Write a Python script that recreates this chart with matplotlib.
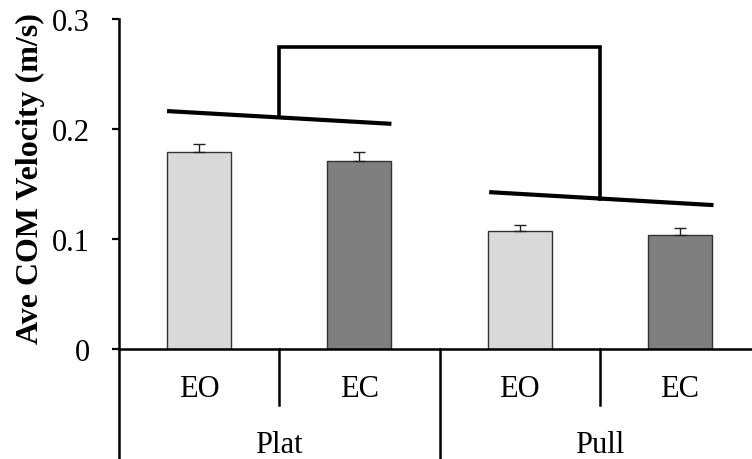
import matplotlib
matplotlib.use("Agg")
import matplotlib.pyplot as plt

# data
conditions = ["EO", "EC", "EO", "EC"]
surfaces = ["Plat", "Pull"]
velocity = [0.179, 0.171, 0.107, 0.104]
velocity_err = [0.007, 0.008, 0.006, 0.006]
bar_colors = ["#d9d9d9", "#7f7f7f", "#d9d9d9", "#7f7f7f"]

# trend lines over each surface and the bracket joining them
plat_line_x = [-0.2, 1.2]
plat_line_y = [0.2163, 0.2047]
pull_line_x = [1.81, 3.21]
pull_line_y = [0.1426, 0.1308]
bracket_x = [0.5, 0.5, 2.5, 2.5]
bracket_y = [0.2105, 0.2748, 0.2748, 0.1368]

plt.rcParams["font.family"] = ["Liberation Serif", "DejaVu Serif"]

fig = plt.figure(figsize=(7.52, 4.60), dpi=100)
ax = fig.add_axes([119 / 752, 1 - 350 / 460, 641 / 752, 330 / 460])

x = list(range(len(conditions)))
ax.bar(x, velocity, width=0.4, color=bar_colors, edgecolor="#333333",
       linewidth=1.0, zorder=2)
ax.errorbar(x, velocity, yerr=[[0] * len(velocity_err), velocity_err],
            fmt="none", ecolor="#202020", elinewidth=1.0, capsize=4.5,
            capthick=1.0, zorder=3)

# significance lines
ax.plot(plat_line_x, plat_line_y, color="black", linewidth=3.0,
        solid_capstyle="butt", clip_on=False)
ax.plot(pull_line_x, pull_line_y, color="black", linewidth=3.0,
        solid_capstyle="butt", clip_on=False)
ax.plot(bracket_x, bracket_y, color="black", linewidth=2.6,
        solid_joinstyle="miter", clip_on=False)

ax.set_xlim(-0.5, 3.5)
ax.set_ylim(0, 0.3)
ax.set_yticks([0, 0.1, 0.2, 0.3])
ax.set_yticklabels(["0", "0.1", "0.2", "0.3"])
ax.set_xticks([])
ax.tick_params(axis="y", direction="out", length=5, width=1.6,
               labelsize=22, pad=16)

for side in ["top", "right"]:
    ax.spines[side].set_visible(False)
ax.spines["left"].set_linewidth(1.8)
ax.spines["bottom"].set_linewidth(1.8)

# two-level category axis
tr = ax.get_xaxis_transform()
for i, lab in enumerate(conditions):
    ax.text(i, -0.143, lab, transform=tr, ha="center", va="baseline",
            fontsize=22)
for i, lab in enumerate(surfaces):
    ax.text(2 * i + 0.5, -0.313, lab, transform=tr, ha="center",
            va="baseline", fontsize=22)

for xd in [0.5, 2.5]:
    ax.plot([xd, xd], [0, -0.169], transform=tr, color="black",
            linewidth=1.8, clip_on=False)
for xd in [-0.5, 1.5, 3.5]:
    ax.plot([xd, xd], [0, -0.4], transform=tr, color="black",
            linewidth=1.8, clip_on=False)

fig.text(30 / 752, 1 - 179 / 460, "Ave COM Velocity (m/s)", rotation=90,
         ha="center", va="center", fontsize=23, fontweight="bold")

fig.savefig("out.png", dpi=100)
